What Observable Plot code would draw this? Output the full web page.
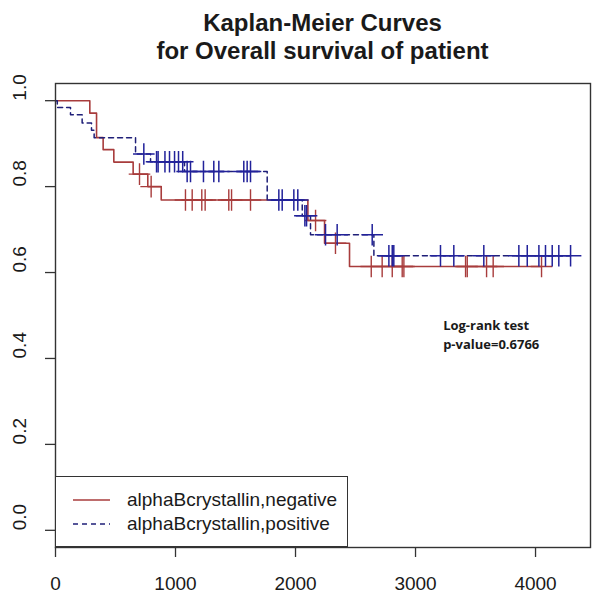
<!DOCTYPE html>
<html>
<head>
<meta charset="utf-8">
<script src="https://cdn.jsdelivr.net/npm/d3@7"></script>
<script src="https://cdn.jsdelivr.net/npm/@observablehq/plot@0.6"></script>
<style>
  html, body { margin: 0; padding: 0; background: #fff; }
  #wrap { position: relative; width: 600px; height: 599px; font-family: "Liberation Sans", Arial, sans-serif; color: #1a1a1a; }
  #title { box-sizing: border-box; height: 65px; padding-top: 9px; margin-left: 55px; width: 535px; text-align: center; font-weight: bold; font-size: 24px; line-height: 28px; }
  #chart svg { display: block; }
  #legend { position: absolute; left: 55px; top: 476px; width: 293px; height: 71px; box-sizing: border-box; border: 1.4px solid #333; background: #fff; }
  .lrow { position: absolute; left: 0; height: 0; }
  .lrow svg { position: absolute; left: 17px; top: -2px; }
  .lrow span { position: absolute; left: 71px; top: -11px; font-size: 19px; line-height: 22px; white-space: nowrap; }
</style>
</head>
<body>
<div id="wrap">
  <div id="title"></div>
  <div id="chart"></div>
  <div id="legend"></div>
</div>
<script>
// ---- text ----
const titleLines = ["Kaplan-Meier Curves", "for Overall survival of patient"];
const annotLines = ["Log-rank test", "p-value=0.6766"];
const annotPos = [3230, 0.458];

// ---- series ----
const seriesNames = ["alphaBcrystallin,negative", "alphaBcrystallin,positive"];
const seriesColors = ["#a83c3c", "#1f1f78"];
const seriesDash = [null, "5,4"];

// negative group: step times and survival after each step
const negTimes = [0, 286, 342, 397, 486, 647, 769, 881, 2103, 2242, 2450];
const negSurv  = [1.0, 0.971, 0.914, 0.886, 0.857, 0.829, 0.800, 0.769, 0.721, 0.668, 0.614];
const negEnd = 4050;
const negCensor = [700, 797, 1083, 1139, 1219, 1247, 1444, 1467, 1625, 2167, 2333,
                   2631, 2722, 2806, 2889, 2903, 3417, 3431, 3592, 3647, 4050];

// positive group
const posTimes = [0, 15, 125, 222, 300, 322, 667, 792, 1075, 1764, 2056, 2125, 2653];
const posSurv  = [1.0, 0.984, 0.967, 0.948, 0.931, 0.914, 0.876, 0.858, 0.835, 0.769, 0.732, 0.688, 0.639];
const posEnd = 4292;
const posCensor = [736, 842, 855, 912, 950, 992, 1025, 1060, 1097, 1125, 1233, 1319, 1361,
                   1569, 1597, 1625, 1861, 1889, 1986, 2019, 2078, 2092, 2250, 2347, 2639,
                   2778, 2806, 2819, 3208, 3319, 3569, 3861, 3931, 4028, 4083, 4139, 4194, 4292];

// ---- axes ----
const xTicks = [0, 1000, 2000, 3000, 4000];
const yTicks = [0, 0.2, 0.4, 0.6, 0.8, 1.0];
const xDomain = [0, 4458];
const yDomain = [-0.04, 1.04];

// ---- build tables ----
function stepAt(times, surv, t) {
  let s = surv[0];
  for (let i = 0; i < times.length; i++) if (times[i] <= t) s = surv[i];
  return s;
}
function curve(times, surv, end) {
  const pts = times.map((t, i) => ({t, s: surv[i]}));
  pts.push({t: end, s: surv[surv.length - 1]});
  return pts;
}
const negPts = curve(negTimes, negSurv, negEnd);
const posPts = curve(posTimes, posSurv, posEnd);
const negC = negCensor.map(t => ({t, s: stepAt(negTimes, negSurv, t)}));
const posC = posCensor.map(t => ({t, s: stepAt(posTimes, posSurv, t)}));

// ---- title ----
document.getElementById("title").innerHTML = titleLines.join("<br>");

// ---- plot ----
const chart = Plot.plot({
  width: 600,
  height: 534,
  marginTop: 18,
  marginBottom: 52,
  marginLeft: 55,
  marginRight: 10,
  x: {domain: xDomain, label: null},
  y: {domain: yDomain, label: null},
  style: {fontFamily: "'Liberation Sans', Arial, sans-serif", fontSize: "19px", color: "#1a1a1a", background: "#fff"},
  marks: [
    Plot.axisX({ticks: xTicks, tickSize: 10, tickPadding: 19, tickFormat: d => String(d), label: null, stroke: "#333", strokeWidth: 1.3}),
    Plot.axisY({ticks: yTicks, tickSize: 10, tickFormat: () => "", label: null, stroke: "#333", strokeWidth: 1.3}),
    Plot.text(yTicks, {y: d => d, text: d => d.toFixed(1), frameAnchor: "left", dx: -36, rotate: -90, fontSize: 19, fill: "#1a1a1a"}),
    Plot.line(negPts, {x: "t", y: "s", curve: "step-after", stroke: seriesColors[0], strokeWidth: 1.6}),
    Plot.line(posPts, {x: "t", y: "s", curve: "step-after", stroke: seriesColors[1], strokeWidth: 1.5, strokeDasharray: seriesDash[1]}),
    Plot.dot(negC, {x: "t", y: "s", symbol: "plus", r: 7, stroke: seriesColors[0], strokeWidth: 1.4}),
    Plot.dot(posC, {x: "t", y: "s", symbol: "plus", r: 7, stroke: "#22229a", strokeWidth: 1.5}),
    Plot.text([annotLines.join("\n")], {x: () => annotPos[0], y: () => annotPos[1], text: d => d, textAnchor: "start", lineAnchor: "middle", lineHeight: 1.42,
      fontFamily: "'Open Sans', sans-serif", fontWeight: 700, fontSize: 13, fill: "#1a1a1a"}),
    Plot.frame({stroke: "#333", strokeWidth: 1.4})
  ]
});
document.getElementById("chart").appendChild(chart);

// ---- legend ----
const legend = d3.select("#legend");
seriesNames.forEach((name, i) => {
  const row = legend.append("div").attr("class", "lrow").style("top", (i === 0 ? 23 : 47) + "px");
  const sw = row.append("svg").attr("width", 37).attr("height", 4);
  sw.append("line").attr("x1", 0).attr("x2", 37).attr("y1", 2).attr("y2", 2)
    .attr("stroke", seriesColors[i]).attr("stroke-width", 1.5)
    .attr("stroke-dasharray", seriesDash[i]);
  row.append("span").text(name);
});
</script>
</body>
</html>
